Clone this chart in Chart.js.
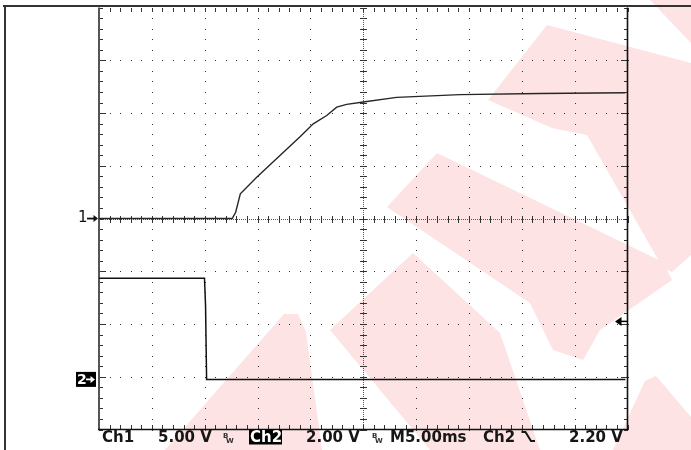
<!DOCTYPE html>
<html><head><meta charset="utf-8">
<script src="https://cdn.jsdelivr.net/npm/chart.js@4.4.0/dist/chart.umd.min.js"></script>
<style>html,body{margin:0;padding:0;background:#fff;overflow:hidden}canvas{display:block}</style>
</head><body>
<canvas id="c" width="691" height="450"></canvas>
<script>
// ---- data (time in ms, voltage in V) ----
const ch1Time  = [0, 12.6, 12.93, 13.37, 14.92, 17.12, 19.02, 20.27, 21.54, 22.49, 23.43, 25.0, 28.16, 34.15, 41.72, 49.8];
const ch1Volts = [0, 0, 0.6, 2.34, 3.92, 5.98, 7.75, 8.98, 9.77, 10.56, 10.82, 11.05, 11.49, 11.75, 11.86, 11.93];
const ch2Time  = [0, 9.98, 10.08, 10.18, 49.8];
const ch2Volts = [3.84, 3.84, 2.8, 0, 0];
// scope settings
const ch1VoltsPerDiv = 5.00;
const ch2VoltsPerDiv = 2.00;
const ch1OffsetDiv = 0;
const ch2OffsetDiv = -3.05;
const timePerDiv = 5.00;      // ms
const triggerLevel = 2.20;    // V on Ch2
const bottomLabels = ['Ch1', '5.00 V', 'Ch2', '2.00 V', 'M5.00ms', 'Ch2', '2.20 V'];

const toPts = (t, v, vpd, off) => t.map((x, i) => ({x: x, y: v[i] / vpd + off}));

const FONT = '"DejaVu Sans", sans-serif';
const PINK = 'rgb(253,227,227)';

const watermark = {
  id: 'watermark',
  beforeDraw(chart) {
    const ctx = chart.ctx;
    ctx.save();
    ctx.fillStyle = '#fff';
    ctx.fillRect(0, 0, chart.width, chart.height);
    const polys = [
      [[650,0],[691,0],[691,43]],
      [[488,100],[547,25],[691,63],[691,255],[672,272],[663,268],[587,135],[552,128]],
      [[437,153],[663,262],[672,280],[600,330],[583,360],[553,350],[530,303],[387,207]],
      [[165,450],[213,395],[284,314],[298,314],[306,332],[322,450]],
      [[413,253],[500,333],[540,450],[430,450],[330,330]],
      [[613,450],[645,381],[656,376],[691,417],[691,450]]
    ];
    ctx.fillStyle = PINK;
    polys.forEach(p => { ctx.beginPath(); p.forEach((q, i) => i ? ctx.lineTo(q[0], q[1]) : ctx.moveTo(q[0], q[1])); ctx.closePath(); ctx.fill(); });
    ctx.restore();
  }
};

const scopeGrid = {
  id: 'scopeGrid',
  beforeDatasetsDraw(chart) {
    const {ctx, scales: {x, y}} = chart;
    const L = x.getPixelForValue(0), R = x.getPixelForValue(10 * timePerDiv);
    const T = y.getPixelForValue(4), B = y.getPixelForValue(-4);
    const minorX = [], minorY = [];
    for (let m = 0; m <= 50; m++) minorX.push(Math.round(x.getPixelForValue(m * timePerDiv / 5)));
    for (let m = 0; m <= 40; m++) minorY.push(Math.round(y.getPixelForValue(-4 + m * 0.2)));
    ctx.save();
    ctx.fillStyle = '#333';
    // dotted division lines
    for (let d = 1; d < 10; d++) {
      if (d === 5) continue;
      const px = Math.round(x.getPixelForValue(d * timePerDiv));
      minorY.forEach(py => ctx.fillRect(px, py, 1, 1));
    }
    for (let d = -3; d <= 3; d++) {
      if (d === 0) continue;
      const py = Math.round(y.getPixelForValue(d));
      minorX.forEach(px => ctx.fillRect(px, py, 1, 1));
      ctx.fillRect(Math.round(L), py, 7, 1);
      ctx.fillRect(Math.round(R) - 7, py, 7, 1);
    }
    // centre axes
    const cx = Math.round(x.getPixelForValue(5 * timePerDiv)), cy = Math.round(y.getPixelForValue(0));
    ctx.fillStyle = '#555';
    for (let py = Math.round(T); py <= B; py += 2) ctx.fillRect(cx, py, 1, 1);
    for (let px = Math.round(L); px <= R; px += 2) ctx.fillRect(px, cy, 1, 1);
    ctx.fillStyle = '#333';
    minorX.forEach(px => ctx.fillRect(px, cy - 3, 1, 7));
    minorY.forEach(py => ctx.fillRect(cx - 3, py, 7, 1));
    // edge ticks
    minorX.forEach(px => { ctx.fillRect(px, Math.round(T), 1, 4); ctx.fillRect(px, Math.round(B) - 5, 1, 5); });
    minorY.forEach(py => { ctx.fillRect(Math.round(L), py, 4, 1); ctx.fillRect(Math.round(R) - 4, py, 4, 1); });
    // borders
    ctx.strokeStyle = '#555'; ctx.lineWidth = 2;
    ctx.beginPath(); ctx.moveTo(L, T); ctx.lineTo(L, B); ctx.stroke();
    ctx.strokeStyle = '#111'; ctx.lineWidth = 1.6;
    ctx.beginPath(); ctx.moveTo(R, T); ctx.lineTo(R, B + 0.8); ctx.moveTo(L - 1, B); ctx.lineTo(R + 0.8, B); ctx.stroke();
    // outer frame
    ctx.fillStyle = '#333';
    ctx.fillRect(3, 5, chart.width - 3, 2);
    ctx.fillRect(4, 5, 2, chart.height - 5);
    ctx.restore();
  },
  afterDraw(chart) {
    const {ctx, scales: {x, y}} = chart;
    const R = x.getPixelForValue(10 * timePerDiv);
    ctx.save();
    // channel ground markers
    const y1 = y.getPixelForValue(ch1OffsetDiv);
    const y2 = y.getPixelForValue(ch2OffsetDiv);
    ctx.fillStyle = '#111';
    ctx.font = '15px ' + FONT; ctx.textBaseline = 'middle'; ctx.textAlign = 'left';
    ctx.fillText('1', 78, y1);
    drawArrow(ctx, 87, 98, y1, '#111');
    ctx.fillStyle = '#000';
    ctx.fillRect(76, y2 - 7.5, 20, 15);
    ctx.fillStyle = '#fff';
    ctx.font = 'bold 14px ' + FONT;
    ctx.fillText('2', 77, y2 + 0.5);
    drawArrow(ctx, 86, 95, y2, '#fff');
    // trigger level marker
    const yt = y.getPixelForValue(triggerLevel / ch2VoltsPerDiv + ch2OffsetDiv);
    ctx.fillStyle = '#000'; ctx.strokeStyle = '#000'; ctx.lineWidth = 1.5;
    ctx.beginPath(); ctx.moveTo(615, yt); ctx.lineTo(621.5, yt - 4.5); ctx.lineTo(621.5, yt + 4.5); ctx.closePath(); ctx.fill();
    ctx.beginPath(); ctx.moveTo(621, yt); ctx.lineTo(R, yt); ctx.stroke();
    // bottom status line
    const base = 442;
    ctx.font = 'bold 15px ' + FONT; ctx.textBaseline = 'alphabetic';
    ctx.fillStyle = '#161616';
    ctx.fillText(bottomLabels[0], 102, base);
    ctx.fillText(bottomLabels[1], 158, base);
    bw(ctx, 223, base);
    ctx.fillStyle = '#000'; ctx.fillRect(249, 429.5, 33, 15);
    ctx.fillStyle = '#fff'; ctx.fillText(bottomLabels[2], 250, base);
    ctx.fillStyle = '#161616';
    ctx.fillText(bottomLabels[3], 306, base);
    bw(ctx, 372, base);
    ctx.fillText(bottomLabels[4], 390, base);
    ctx.fillText(bottomLabels[5], 483, base);
    // falling-edge symbol
    ctx.strokeStyle = '#161616'; ctx.lineWidth = 2;
    ctx.beginPath(); ctx.moveTo(521.5, 432); ctx.lineTo(525.5, 432); ctx.lineTo(531, 441); ctx.lineTo(535, 441); ctx.stroke();
    ctx.fillText(bottomLabels[6], 569, base);
    ctx.restore();
  }
};
function drawArrow(ctx, x0, x1, yy, col) {
  ctx.save();
  ctx.strokeStyle = col; ctx.fillStyle = col; ctx.lineWidth = 1.8;
  ctx.beginPath(); ctx.moveTo(x0, yy); ctx.lineTo(x1 - 3, yy); ctx.stroke();
  ctx.beginPath(); ctx.moveTo(x1, yy); ctx.lineTo(x1 - 4.5, yy - 3.5); ctx.lineTo(x1 - 4.5, yy + 3.5); ctx.closePath(); ctx.fill();
  ctx.restore();
}
function bw(ctx, x0, base) {
  ctx.save();
  ctx.fillStyle = '#333';
  ctx.font = 'bold 7px ' + FONT;
  ctx.fillText('B', x0, base - 4);
  ctx.fillText('W', x0 + 3, base + 1);
  ctx.restore();
}

new Chart(document.getElementById('c'), {
  type: 'line',
  data: {
    datasets: [
      {label: 'Ch1', data: toPts(ch1Time, ch1Volts, ch1VoltsPerDiv, ch1OffsetDiv), borderColor: '#262626', borderWidth: 1.4, pointRadius: 0, tension: 0, fill: false},
      {label: 'Ch2', data: toPts(ch2Time, ch2Volts, ch2VoltsPerDiv, ch2OffsetDiv), borderColor: '#111', borderWidth: 1.5, pointRadius: 0, tension: 0, fill: false}
    ]
  },
  options: {
    responsive: false,
    devicePixelRatio: 1,
    animation: false,
    events: [],
    layout: {padding: {left: 99, right: 63.5, top: 7.6, bottom: 20.5}},
    plugins: {legend: {display: false}, tooltip: {enabled: false}},
    scales: {
      x: {type: 'linear', min: 0, max: 10 * timePerDiv, display: false},
      y: {type: 'linear', min: -4, max: 4, display: false}
    }
  },
  plugins: [watermark, scopeGrid]
});
</script>
</body></html>
